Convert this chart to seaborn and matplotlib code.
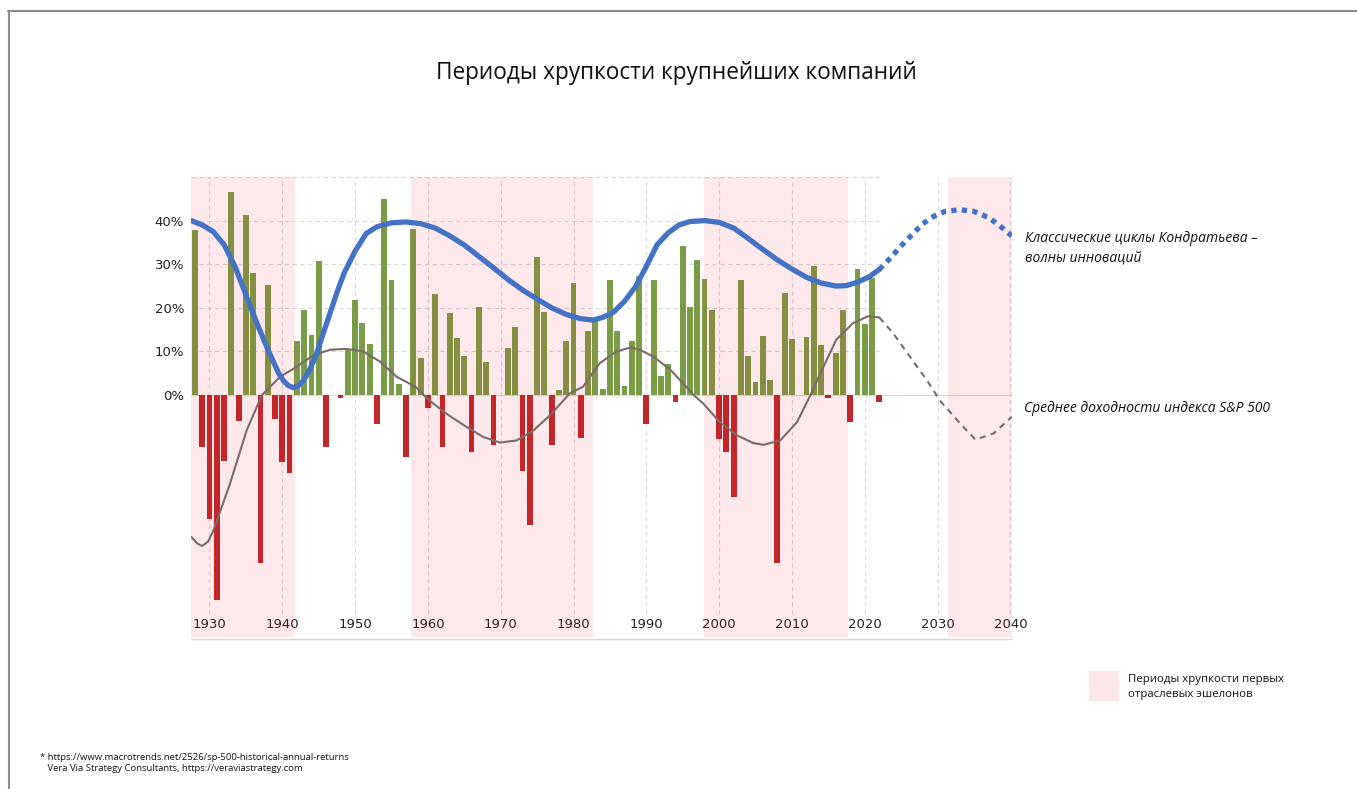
import matplotlib
matplotlib.use('Agg')
import matplotlib.pyplot as plt
from matplotlib.patches import Rectangle
from matplotlib.lines import Line2D
import seaborn as sns
import numpy as np
import pandas as pd

# Годовая доходность S&P 500, %
years = list(range(1928, 2023))
returns = [
    37.88, -11.91, -28.48, -47.07, -15.15, 46.59, -5.94, 41.37, 27.92, -38.59,
    25.21, -5.45, -15.29, -17.86, 12.43, 19.45, 13.80, 30.72, -11.87, 0.00,
    -0.65, 10.26, 21.78, 16.46, 11.78, -6.62, 45.02, 26.40, 2.62, -14.31,
    38.06, 8.48, -2.97, 23.13, -11.81, 18.89, 12.97, 9.06, -13.09, 20.09,
    7.66, -11.36, 0.10, 10.79, 15.63, -17.37, -29.72, 31.55, 19.15, -11.50,
    1.06, 12.31, 25.77, -9.73, 14.76, 17.27, 1.40, 26.33, 14.62, 2.03,
    12.40, 27.25, -6.56, 26.31, 4.46, 7.06, -1.54, 34.11, 20.26, 31.01,
    26.67, 19.53, -10.14, -13.04, -23.37, 26.38, 8.99, 3.00, 13.62, 3.53,
    -38.49, 23.45, 12.78, 0.00, 13.41, 29.60, 11.39, -0.73, 9.54, 19.42,
    -6.24, 28.88, 16.26, 26.89, -1.50,
]

# Циклы Кондратьева
kond_years = [1927.5, 1929, 1930.5, 1932, 1933.5, 1935, 1936.5, 1938, 1939.5, 1940.2,
              1940.8, 1941.5, 1942.2, 1942.9, 1943.5, 1944.5, 1945.5, 1946.5, 1947.5, 1948.5,
              1950, 1951.5, 1953, 1955, 1957, 1959, 1961, 1963, 1965, 1967,
              1969, 1971, 1973, 1975, 1977, 1979, 1981, 1982.7, 1984, 1985.5,
              1987, 1988.5, 1990, 1991.5, 1993, 1994.5, 1996, 1998, 2000, 2002,
              2004, 2006, 2008, 2010, 2012, 2014, 2016, 2017.5, 2019, 2020.5, 2022]
kond_vals = [40.0, 39.0, 37.5, 34.5, 29.5, 23.0, 16.5, 10.5, 5.0, 3.2,
             2.2, 1.7, 2.1, 3.3, 5.0, 8.5, 13.5, 18.5, 23.5, 28.0,
             33.0, 37.0, 38.6, 39.5, 39.7, 39.3, 38.3, 36.5, 34.4, 31.8,
             29.2, 26.5, 24.1, 22.0, 20.0, 18.5, 17.5, 17.2, 17.8, 19.0,
             21.5, 24.8, 29.5, 34.5, 37.2, 39.0, 39.8, 40.0, 39.6, 38.3,
             35.9, 33.4, 31.0, 28.9, 27.0, 25.7, 25.0, 25.1, 25.9, 27.0, 28.8]
kond_fc_years = [2022, 2023.5, 2025, 2026.5, 2028, 2029.5, 2031, 2033, 2035, 2037, 2038.5, 2040.2]
kond_fc_vals = [28.8, 31.4, 34.2, 36.8, 39.3, 41.0, 42.1, 42.5, 42.1, 40.7, 38.9, 36.5]

# Среднее доходности индекса S&P 500
sp_years = [1927.5, 1928.3, 1929, 1929.8, 1930.5, 1932.8, 1935.1, 1937.2, 1939.7, 1942,
            1944.3, 1946.6, 1948.8, 1951.1, 1953.4, 1955.7, 1958.3, 1959.4, 1960.7, 1963,
            1965.3, 1967.6, 1969.9, 1972.2, 1974.5, 1976.8, 1979.5, 1981.3, 1983.6, 1985.9,
            1987.8, 1989.1, 1991, 1993.3, 1995.5, 1996.5, 1997.8, 2000.1, 2002.4, 2004.7,
            2006.1, 2008.4, 2010.7, 2012.9, 2013.9, 2016.1, 2018.4, 2020.5, 2022]
sp_vals = [-32.5, -34.0, -34.6, -33.6, -31.2, -20.4, -8.1, 0.0, 4.2, 6.5,
           9.2, 10.4, 10.6, 10.0, 7.7, 4.2, 1.9, 0.0, -1.9, -4.8,
           -7.3, -9.6, -10.9, -10.4, -8.1, -4.6, 0.4, 1.9, 7.3, 10.0,
           10.9, 10.4, 8.8, 5.8, 1.9, 0.0, -1.9, -6.2, -9.2, -11.0,
           -11.4, -10.4, -6.2, 1.2, 5.0, 12.7, 16.5, 18.1, 17.8]
sp_fc_years = [2022, 2023.9, 2026.2, 2028.5, 2030.3, 2033.1, 2035.2, 2037.7, 2040.2]
sp_fc_vals = [17.8, 14.2, 8.8, 3.5, -1.2, -6.5, -10.2, -8.8, -5.0]

# Периоды хрупкости (начало, конец)
fragile_periods = [(1927.4, 1941.7), (1957.7, 1982.7), (1997.9, 2017.7), (2031.4, 2040.2)]

decades = list(range(1930, 2041, 10))
pct_ticks = [0, 10, 20, 30, 40]

GREEN = '#7a9c46'
RED = '#c0282a'
BLUE = '#4472c4'
GRAY = '#7b6b6b'
GRID = '#d9d9d9'

sns.set_style('white')
plt.rcParams['font.family'] = ['Open Sans', 'DejaVu Sans']

df = pd.DataFrame({'year': years, 'ret': returns})
df['sign'] = np.where(df['ret'] >= 0, 'pos', 'neg')

fig = plt.figure(figsize=(13.57, 7.89), dpi=100)
ax = fig.add_axes([191 / 1357, (789 - 639.3) / 789, (1012 - 191) / 1357, 462.3 / 789])

# сетка
ax.vlines(decades, -50.3, 50, colors=GRID, linestyles=(0, (4, 3)), lw=0.8, zorder=1, clip_on=False)
ax.hlines([10, 20, 30, 40, 50], 1927.46, 2022, colors=GRID, linestyles=(0, (4, 3)), lw=0.8,
          zorder=1, clip_on=False)
ax.axhline(0, color=GRID, lw=1, zorder=1)

# столбцы
sns.barplot(data=df, x='year', y='ret', hue='sign', palette={'pos': GREEN, 'neg': RED},
            native_scale=True, dodge=False, width=0.8, saturation=1, errorbar=None,
            legend=False, linewidth=0, zorder=2, ax=ax)

# периоды хрупкости
for x0, x1 in fragile_periods:
    ax.axvspan(x0, x1, ymin=0.006, ymax=1, color='#eb0f23', alpha=0.09, lw=0, zorder=3)

# кривые
sns.lineplot(x=kond_years, y=kond_vals, color=BLUE, lw=3.8, sort=False, zorder=5,
             solid_capstyle='round', solid_joinstyle='round', ax=ax)
sns.lineplot(x=kond_fc_years, y=kond_fc_vals, color=BLUE, lw=3.8, sort=False, zorder=5,
             linestyle=(0, (1, 1)), dash_capstyle='butt', ax=ax)
sns.lineplot(x=sp_years, y=sp_vals, color=GRAY, lw=1.5, sort=False, zorder=4,
             solid_joinstyle='round', ax=ax)
sns.lineplot(x=sp_fc_years, y=sp_fc_vals, color=GRAY, lw=1.5, sort=False, zorder=4,
             linestyle=(0, (3, 2.5)), ax=ax)

ax.set_xlim(1927.46, 2040.23)
ax.set_ylim(-56.0, 50.0)
ax.set_xticks(decades)
ax.set_xticklabels([str(d) for d in decades], fontsize=9.5, family='DejaVu Sans', color='#222222')
ax.set_yticks(pct_ticks)
ax.set_yticklabels([f'{v}%' for v in pct_ticks], fontsize=9.5, family='DejaVu Sans', color='#222222')
ax.tick_params(axis='x', length=0, pad=-15)
ax.tick_params(axis='y', length=0, pad=5)
ax.set_xlabel('')
ax.set_ylabel('')
for s in ['top', 'right', 'left']:
    ax.spines[s].set_visible(False)
ax.spines['bottom'].set_color(GRID)
ax.spines['bottom'].set_linewidth(1)

# заголовок и подписи
fig.text(676 / 1357, 1 - 73 / 789, 'Периоды хрупкости крупнейших компаний',
         ha='center', va='center', fontsize=16.3, color='#111111')
fig.text(1025 / 1357, 1 - 248 / 789, 'Классические циклы Кондратьева –\nволны инноваций',
         ha='left', va='center', fontsize=10, style='italic', linespacing=1.45, color='#111111')
fig.text(1024 / 1357, 1 - 409 / 789, 'Среднее доходности индекса S&P 500',
         ha='left', va='center', fontsize=10, style='italic', color='#111111')

# легенда
fig.patches.append(Rectangle((1089 / 1357, 1 - 701 / 789), 30 / 1357, 30 / 789,
                             transform=fig.transFigure, color='#fde7e9', lw=0))
fig.text(1128 / 1357, 1 - 687 / 789, 'Периоды хрупкости первых\nотраслевых эшелонов',
         ha='left', va='center', fontsize=8.2, linespacing=1.5, color='#111111')

# источник
fig.text(40 / 1357, 1 - 763 / 789,
         '* https://www.macrotrends.net/2526/sp-500-historical-annual-returns\n'
         '   Vera Via Strategy Consultants, https://veraviastrategy.com',
         ha='left', va='center', fontsize=6.8, linespacing=1.3, color='#111111')

# рамка
fig.add_artist(Line2D([8 / 1357, 1], [1 - 11 / 789, 1 - 11 / 789], transform=fig.transFigure,
                      color='#8c8c8c', lw=1.5))
fig.add_artist(Line2D([9 / 1357, 9 / 1357], [0, 1 - 11 / 789], transform=fig.transFigure,
                      color='#8c8c8c', lw=1.5))

fig.savefig('out.png', dpi=100)
